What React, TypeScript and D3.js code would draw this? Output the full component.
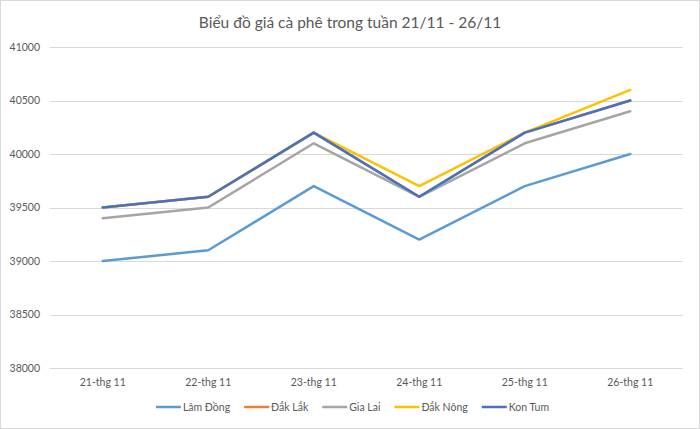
import React, { useEffect, useRef } from "react";
import * as d3 from "d3";

const categories = ["21-thg 11", "22-thg 11", "23-thg 11", "24-thg 11", "25-thg 11", "26-thg 11"];
const lamDong = [39000, 39100, 39700, 39200, 39700, 40000];
const dakLak = [39500, 39600, 40200, 39600, 40200, 40500];
const giaLai = [39400, 39500, 40100, 39600, 40100, 40400];
const dakNong = [39500, 39600, 40200, 39700, 40200, 40600];
const konTum = [39500, 39600, 40200, 39600, 40200, 40500];
const seriesNames = ["Lâm Đồng", "Đắk Lắk", "Gia Lai", "Đắk Nông", "Kon Tum"];
const seriesColors = ["#5B9BD5", "#ED7D31", "#A5A5A5", "#FFC000", "#4472C4"];
const yTicks = [38000, 38500, 39000, 39500, 40000, 40500, 41000];
const title = "Biểu đồ giá cà phê trong tuần 21/11 - 26/11";

const W = 700, H = 429;
const FONT = "Lato, 'Open Sans', sans-serif";

export default function App() {
  const ref = useRef<SVGSVGElement>(null);
  useEffect(() => {
    const svg = d3.select(ref.current);
    svg.selectAll("*").remove();
    const allSeries = [lamDong, dakLak, giaLai, dakNong, konTum];
    const x = d3.scaleBand<string>().domain(categories).range([50, 683]);
    const y = d3.scaleLinear().domain([38000, 41000]).range([368, 47]);
    const cx = (c: string) => (x(c) as number) + x.bandwidth() / 2;

    svg.append("rect").attr("x", 0.5).attr("y", 0.5).attr("width", W - 1).attr("height", H - 1)
      .attr("fill", "#fff").attr("stroke", "#d9d9d9");

    svg.append("text").attr("x", 350).attr("y", 28).attr("text-anchor", "middle")
      .attr("font-family", FONT).attr("font-size", 15.5).attr("fill", "#595959").text(title);

    const g = svg.append("g");
    g.selectAll("line.grid").data(yTicks).join("line")
      .attr("x1", 50).attr("x2", 683)
      .attr("y1", (d) => Math.round(y(d)) + 0.5).attr("y2", (d) => Math.round(y(d)) + 0.5)
      .attr("stroke", "#d9d9d9").attr("stroke-width", 1);
    g.selectAll("text.yl").data(yTicks).join("text")
      .attr("x", 40).attr("y", (d) => y(d)).attr("dy", "0.35em").attr("text-anchor", "end")
      .attr("font-family", FONT).attr("font-size", 10.5).attr("fill", "#595959").text((d) => String(d));
    g.selectAll("text.xl").data(categories).join("text")
      .attr("x", (d) => cx(d)).attr("y", 386).attr("text-anchor", "middle")
      .attr("font-family", FONT).attr("font-size", 10.5).attr("fill", "#595959").text((d) => d);

    const line = d3.line<number>().x((_, i) => cx(categories[i])).y((d) => y(d));
    allSeries.forEach((s, i) => {
      g.append("path").attr("d", line(s) as string).attr("fill", "none")
        .attr("stroke", seriesColors[i]).attr("stroke-width", 2.5)
        .attr("stroke-linejoin", "round").attr("stroke-linecap", "round");
    });

    // legend
    const lg = svg.append("g");
    const items = seriesNames.map((n, i) => {
      const it = lg.append("g");
      it.append("line").attr("x1", 0).attr("x2", 25).attr("y1", 0).attr("y2", 0)
        .attr("stroke", seriesColors[i]).attr("stroke-width", 2.5);
      const t = it.append("text").attr("x", 27).attr("y", 0).attr("dy", "0.35em")
        .attr("font-family", FONT).attr("font-size", 10.5).attr("fill", "#595959").text(n);
      const w = 27 + (t.node() as SVGTextElement).getComputedTextLength();
      return { it, w };
    });
    const gap = 14;
    const total = d3.sum(items, (d) => d.w) + gap * (items.length - 1);
    let px = 352.5 - total / 2;
    items.forEach(({ it, w }) => {
      it.attr("transform", `translate(${px},407)`);
      px += w + gap;
    });
  }, []);
  return (
    <svg ref={ref} width={W} height={H} style={{ position: "absolute", left: 0, top: 0, background: "#fff" }} />
  );
}
